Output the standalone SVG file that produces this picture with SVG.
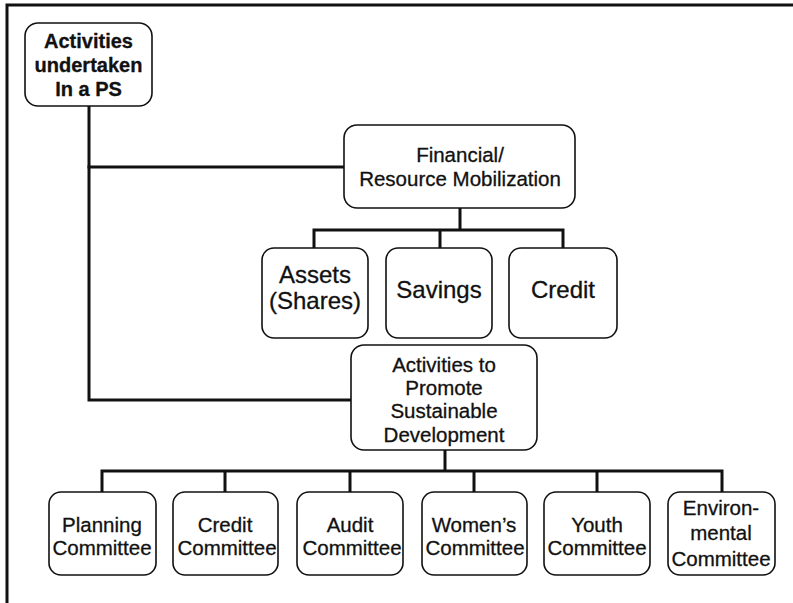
<svg xmlns="http://www.w3.org/2000/svg" width="793" height="603" viewBox="0 0 793 603">
<style>
.box{fill:#fff;stroke:#111;stroke-width:1.6}
.ln{fill:none;stroke:#111;stroke-width:3;stroke-linecap:square}
text{font-family:"Liberation Sans",Arial,sans-serif;fill:#111;text-anchor:middle;stroke:#111;stroke-width:0.3}
.b{font-weight:bold;font-size:20px}
.m{font-size:20.5px}
.l{font-size:24px}
.c{font-size:20.5px}
</style>
<rect x="7" y="5" width="820" height="640" fill="none" stroke="#111" stroke-width="3"/>
<g id="connectors">
<path class="ln" d="M89 106 V400 H351"/>
<path class="ln" d="M89 167 H344"/>
<path class="ln" d="M460 208 V230 M314 248 V230 H563 V248 M440 230 V248"/>
<path class="ln" d="M445 450 V471 M102 492 V471 H722 V492 M225 471 V492 M350 471 V492 M474 471 V492 M597 471 V492"/>
</g>
<g id="n-root">
<rect class="box" x="25" y="23" width="127" height="83" rx="13"/>
<text class="b" x="88.5" y="48">Activities</text>
<text class="b" x="88.5" y="72">undertaken</text>
<text class="b" x="88.5" y="96">In a PS</text>
</g>
<g id="n-financial">
<rect class="box" x="344" y="125" width="231" height="83" rx="13"/>
<text class="m" x="460" y="162">Financial/</text>
<text class="m" x="460" y="186">Resource Mobilization</text>
</g>
<g id="n-assets">
<rect class="box" x="262" y="248" width="106" height="90" rx="12"/>
<text class="l" x="315" y="283">Assets</text>
<text class="l" x="315" y="309">(Shares)</text>
</g>
<g id="n-savings">
<rect class="box" x="386" y="248" width="106" height="90" rx="12"/>
<text class="l" x="439" y="298">Savings</text>
</g>
<g id="n-credit">
<rect class="box" x="509" y="248" width="108" height="90" rx="12"/>
<text class="l" x="563" y="298">Credit</text>
</g>
<g id="n-promote">
<rect class="box" x="351" y="345" width="186" height="105" rx="13"/>
<text class="m" x="444" y="372">Activities to</text>
<text class="m" x="444" y="395">Promote</text>
<text class="m" x="444" y="418">Sustainable</text>
<text class="m" x="444" y="442">Development</text>
</g>
<g id="n-planning">
<rect class="box" x="49" y="492" width="107" height="83" rx="12"/>
<text class="c" x="102" y="532">Planning</text>
<text class="c" x="102" y="555">Committee</text>
</g>
<g id="n-creditc">
<rect class="box" x="173" y="492" width="105" height="83" rx="12"/>
<text class="c" x="225" y="532">Credit</text>
<text class="c" x="227" y="555">Committee</text>
</g>
<g id="n-audit">
<rect class="box" x="297" y="492" width="106" height="83" rx="12"/>
<text class="c" x="350" y="532">Audit</text>
<text class="c" x="352" y="555">Committee</text>
</g>
<g id="n-women">
<rect class="box" x="422" y="492" width="105" height="83" rx="12"/>
<text class="c" x="474" y="532">Women’s</text>
<text class="c" x="475" y="555">Committee</text>
</g>
<g id="n-youth">
<rect class="box" x="544" y="492" width="106" height="83" rx="12"/>
<text class="c" x="597" y="532">Youth</text>
<text class="c" x="597" y="555">Committee</text>
</g>
<g id="n-env">
<rect class="box" x="668" y="492" width="107" height="83" rx="12"/>
<text class="c" x="721" y="515">Environ-</text>
<text class="c" x="721" y="540">mental</text>
<text class="c" x="721" y="566">Committee</text>
</g>
</svg>
